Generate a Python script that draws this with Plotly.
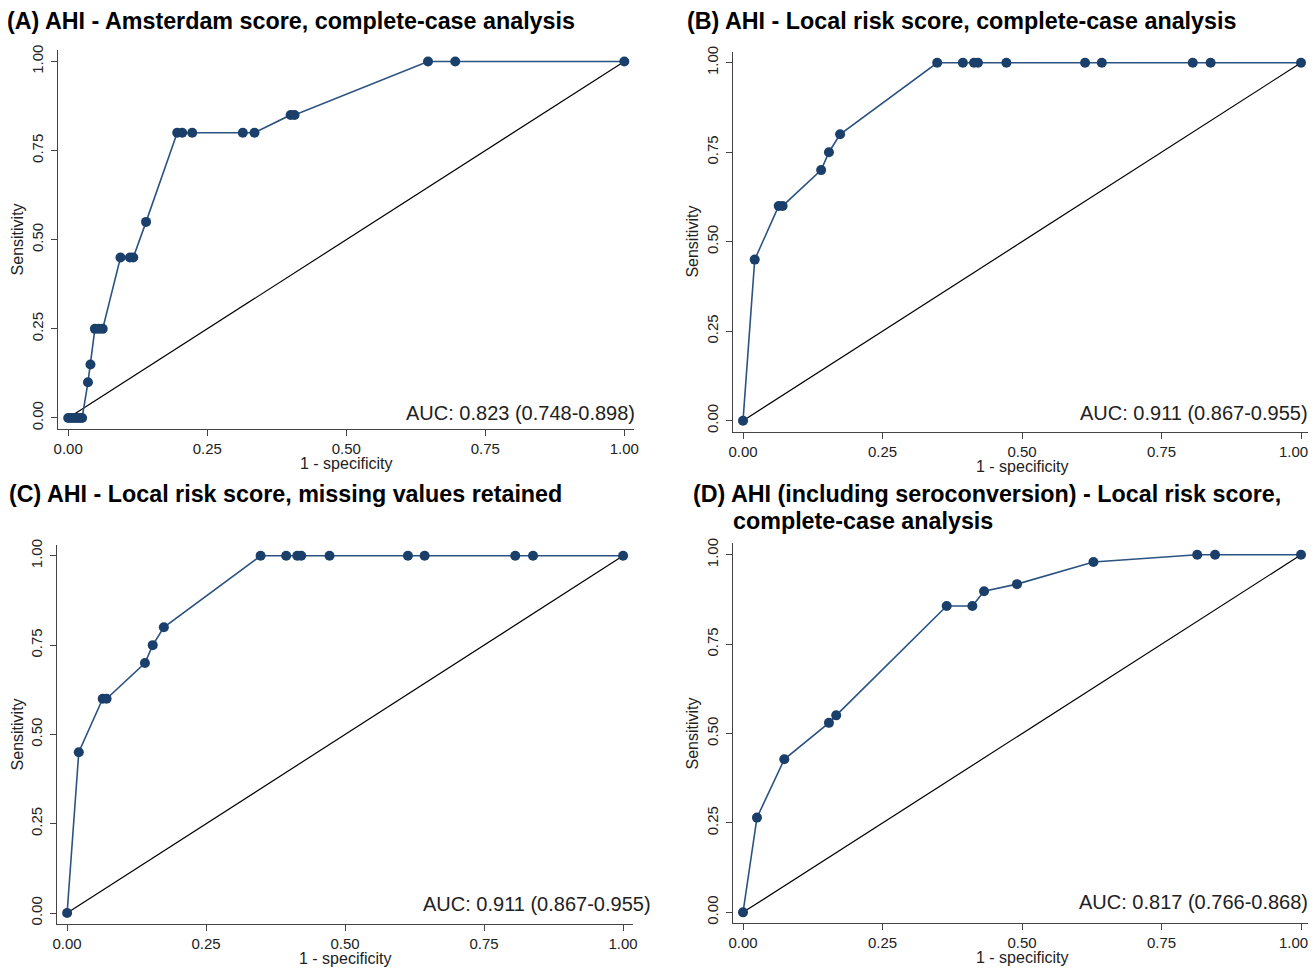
import plotly.graph_objects as go

# ---------------- data ----------------
tick_vals = [0, 0.25, 0.5, 0.75, 1.0]
tick_text = ["0.00", "0.25", "0.50", "0.75", "1.00"]

ref_x = [0, 1]
ref_y = [0, 1]

a_x = [0, 0.005, 0.01, 0.015, 0.02, 0.025, 0.0355, 0.040, 0.048, 0.055, 0.062,
       0.094, 0.111, 0.117, 0.140, 0.196, 0.205, 0.223, 0.314, 0.335, 0.400,
       0.407, 0.647, 0.696, 1.0]
a_y = [0, 0, 0, 0, 0, 0, 0.10, 0.15, 0.25, 0.25, 0.25,
       0.45, 0.45, 0.45, 0.55, 0.80, 0.80, 0.80, 0.80, 0.80, 0.85,
       0.85, 1.0, 1.0, 1.0]

b_x = [0, 0.021, 0.064, 0.071, 0.140, 0.154, 0.174, 0.348, 0.394, 0.414,
       0.421, 0.472, 0.613, 0.643, 0.806, 0.838, 1.0]
b_y = [0, 0.45, 0.60, 0.60, 0.70, 0.75, 0.80, 1.0, 1.0, 1.0,
       1.0, 1.0, 1.0, 1.0, 1.0, 1.0, 1.0]

c_x = [0, 0.021, 0.064, 0.071, 0.140, 0.154, 0.174, 0.348, 0.394, 0.414,
       0.421, 0.472, 0.613, 0.643, 0.806, 0.838, 1.0]
c_y = [0, 0.45, 0.60, 0.60, 0.70, 0.75, 0.80, 1.0, 1.0, 1.0,
       1.0, 1.0, 1.0, 1.0, 1.0, 1.0, 1.0]

d_x = [0, 0.025, 0.074, 0.154, 0.167, 0.365, 0.411, 0.432, 0.491, 0.628,
       0.814, 0.846, 1.0]
d_y = [0, 0.265, 0.428, 0.530, 0.551, 0.857, 0.857, 0.898, 0.918, 0.980,
       1.0, 1.0, 1.0]

titles = [
    "(A) AHI - Amsterdam score, complete-case analysis",
    "(B) AHI - Local risk score, complete-case analysis",
    "(C) AHI - Local risk score, missing values retained",
    "(D) AHI (including seroconversion) - Local risk score,",
]
title_d2 = "complete-case analysis"
auc_texts = [
    "AUC: 0.823 (0.748-0.898)",
    "AUC: 0.911 (0.867-0.955)",
    "AUC: 0.911 (0.867-0.955)",
    "AUC: 0.817 (0.766-0.868)",
]
x_title = "1 - specificity"
y_title = "Sensitivity"

# ---------------- layout geometry (target picture pixels) ----------------
W, H = 1316, 969
# measured mapping of figure pixels to screenshot pixels: page = A + S * fig
AX_OFF, AY_OFF, S = 10.8, 13.5, 0.993


def fx(x):
    return (x - AX_OFF) / S


def fy(y):
    return (y - AY_OFF) / S


def px(x):
    return fx(x) / W


def py(y):
    return 1 - fy(y) / H


# x0/x1: pixel of data 0/1; l/r: axis line extent; y1/y0: pixel of data 1/0; t/b: extent
panels = [
    dict(x0=67, x1=623, l=56.5, r=632.7, y1=61, y0=418, t=50, b=429,
         auc=(636, 413), tx=4, ty=21, edge=False),
    dict(x0=741.7, x1=1299.6, l=731.6, r=1308, y1=62.3, y0=420.7, t=51.7, b=431.7,
         auc=(1308.5, 413), tx=684, ty=21, edge=True),
    dict(x0=65.9, x1=621.8, l=55.8, r=631.5, y1=556, y0=913.7, t=545, b=924.3,
         auc=(652, 905), tx=6, ty=494, edge=False),
    dict(x0=741.7, x1=1299.6, l=731.6, r=1308, y1=555, y0=913, t=543.3, b=923.3,
         auc=(1308.5, 903), tx=690, ty=494, edge=True),
]

NAVY = "#1a3f6b"
LINE = "#2b5382"
AXC = "#444444"
FONT = "Liberation Sans, Arial, sans-serif"

series = [(a_x, a_y), (b_x, b_y), (c_x, c_y), (d_x, d_y)]

fig = go.Figure()
annotations = []

for i, (p, (sx, sy)) in enumerate(zip(panels, series)):
    n = "" if i == 0 else str(i + 1)
    xa, ya = "x" + n, "y" + n
    fig.add_trace(go.Scatter(x=ref_x, y=ref_y, mode="lines",
                             line=dict(color="black", width=1.2),
                             xaxis=xa, yaxis=ya, showlegend=False, hoverinfo="skip"))
    fig.add_trace(go.Scatter(x=sx, y=sy, mode="lines+markers",
                             line=dict(color=LINE, width=1.6),
                             marker=dict(color=NAVY, size=10, line=dict(width=0)),
                             xaxis=xa, yaxis=ya, showlegend=False))
    sxp = p["x1"] - p["x0"]
    syp = p["y0"] - p["y1"]
    xr = [(p["l"] - p["x0"]) / sxp, 1 + (p["r"] - p["x1"]) / sxp]
    yr = [-(p["b"] - p["y0"]) / syp, 1 + (p["y1"] - p["t"]) / syp]
    xdom = [max(0, px(p["l"])), min(1, px(p["r"]))]
    ydom = [max(0, py(p["b"])), min(1, py(p["t"]))]
    # panels at the right page edge: last x label drawn as an annotation so it stays in view
    xt = tick_text[:-1] + [""] if p["edge"] else tick_text
    fig.layout["xaxis" + n] = dict(
        domain=xdom, range=xr, anchor=ya,
        tickmode="array", tickvals=tick_vals, ticktext=xt,
        showgrid=False, zeroline=False, showline=True, linecolor=AXC, linewidth=1.3,
        ticks="outside", ticklen=6, tickcolor=AXC, tickwidth=1.2,
        tickfont=dict(family=FONT, size=15, color="#222222"), fixedrange=True)
    fig.layout["yaxis" + n] = dict(
        domain=ydom, range=yr, anchor=xa,
        tickmode="array", tickvals=tick_vals, ticktext=tick_text, tickangle=-90,
        showgrid=False, zeroline=False, showline=True, linecolor=AXC, linewidth=1.3,
        ticks="outside", ticklen=6, tickcolor=AXC, tickwidth=1.2, ticklabelstandoff=2,
        tickfont=dict(family=FONT, size=15, color="#222222"), fixedrange=True)
    if p["edge"]:
        annotations.append(dict(text=tick_text[-1], xref="paper", yref="paper",
                                x=px(1308.5), y=py(p["b"] + 20), xanchor="right", yanchor="middle",
                                showarrow=False, font=dict(family=FONT, size=15, color="#222222")))

    # panel title
    annotations.append(dict(text="<b>" + titles[i] + "</b>", xref="paper", yref="paper",
                            x=px(p["tx"]), y=py(p["ty"]), xanchor="left", yanchor="middle",
                            showarrow=False, font=dict(family=FONT, size=23.3, color="black")))
    # AUC text
    annotations.append(dict(text=auc_texts[i], xref="paper", yref="paper",
                            x=px(p["auc"][0]), y=py(p["auc"][1]), xanchor="right", yanchor="middle",
                            showarrow=False, font=dict(family=FONT, size=20, color="#222222")))
    # axis titles
    annotations.append(dict(text=x_title, xref="paper", yref="paper",
                            x=px((p["x0"] + p["x1"]) / 2), y=py(p["b"] + 35),
                            xanchor="center", yanchor="middle",
                            showarrow=False, font=dict(family=FONT, size=16, color="#222222")))
    annotations.append(dict(text=y_title, xref="paper", yref="paper",
                            x=px(p["l"] - 40), y=py((p["y0"] + p["y1"]) / 2),
                            xanchor="center", yanchor="middle",
                            textangle=-90, showarrow=False,
                            font=dict(family=FONT, size=16, color="#222222")))

annotations.append(dict(text="<b>" + title_d2 + "</b>", xref="paper", yref="paper",
                        x=px(730), y=py(521), xanchor="left", yanchor="middle",
                        showarrow=False, font=dict(family=FONT, size=23.3, color="black")))

fig.update_layout(width=W, height=H, autosize=False,
                  margin=dict(l=0, r=0, t=0, b=0),
                  paper_bgcolor="white", plot_bgcolor="white",
                  annotations=annotations, showlegend=False)

fig.write_html("out.html", config={"displayModeBar": False})
